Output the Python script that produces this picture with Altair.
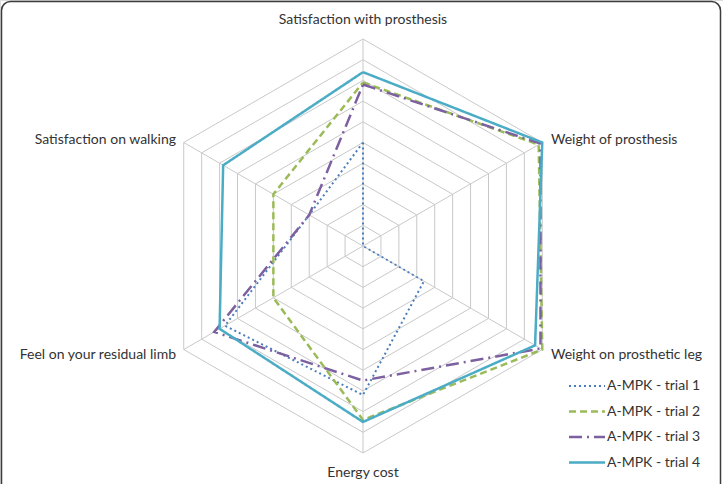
import math
import altair as alt
import pandas as pd

# Radar axes, clockwise from the top
categories = [
    "Satisfaction with prosthesis",
    "Weight of prosthesis",
    "Weight on prosthetic leg",
    "Energy cost",
    "Feel on your residual limb",
    "Satisfaction on walking",
]

trials = ["A-MPK - trial 1", "A-MPK - trial 2", "A-MPK - trial 3", "A-MPK - trial 4"]
trial1 = [5.0, 0.0, 3.4, 7.2, 7.7, 3.0]
trial2 = [7.9, 9.8, 10.0, 8.4, 5.0, 5.0]
trial3 = [7.8, 9.9, 9.9, 6.5, 8.3, 3.0]
trial4 = [8.4, 10.0, 9.6, 8.5, 8.0, 7.8]
series = [trial1, trial2, trial3, trial4]

ring_levels = list(range(1, 11))
max_level = 10

colors = ["#4a7ebb", "#9bbb59", "#7d60a0", "#4bacc6"]
dashes = [[2, 3], [7, 4], [13, 5, 2, 5], [1, 0]]
widths = [2.0, 2.5, 2.5, 2.5]

W, H = 723, 484
CX, CY = 363.0, 246.0       # pixel centre of the radar
UNIT = 20.7                 # pixels per unit value

x_dom = [-CX / UNIT, (W - CX) / UNIT]
y_dom = [-(H - CY) / UNIT, CY / UNIT]
xs = alt.Scale(domain=x_dom, range=[0, W], nice=False, zero=False)
ys = alt.Scale(domain=y_dom, range=[H, 0], nice=False, zero=False)

FONT = "Lato"
FONT_SIZE = 14
TEXT_COLOR = "#333333"


def angle(i):
    return math.radians(90 - 60 * i)


def polar(v, i):
    a = angle(i)
    return v * math.cos(a), v * math.sin(a)


# Grid rings
ring_rows = []
for lvl in ring_levels:
    for k in range(len(categories) + 1):
        i = k % len(categories)
        x, y = polar(lvl, i)
        ring_rows.append({"level": lvl, "k": k, "x": x, "y": y})
rings = alt.Chart(pd.DataFrame(ring_rows)).mark_line(
    color="#c9c9c9", strokeWidth=1
).encode(
    x=alt.X("x:Q", scale=xs, axis=None),
    y=alt.Y("y:Q", scale=ys, axis=None),
    detail="level:N",
    order="k:Q",
)

# Spokes
spoke_rows = []
for i, c in enumerate(categories):
    x, y = polar(max_level, i)
    spoke_rows.append({"x": 0.0, "y": 0.0, "x2": x, "y2": y})
spokes = alt.Chart(pd.DataFrame(spoke_rows)).mark_rule(
    color="#c9c9c9", strokeWidth=1
).encode(
    x=alt.X("x:Q", scale=xs, axis=None),
    y=alt.Y("y:Q", scale=ys, axis=None),
    x2="x2:Q",
    y2="y2:Q",
)

# Series polygons
layers = []
for t, vals, col, dash, sw in zip(trials, series, colors, dashes, widths):
    rows = []
    for k in range(len(categories) + 1):
        i = k % len(categories)
        x, y = polar(vals[i], i)
        rows.append({"trial": t, "k": k, "x": x, "y": y})
    layers.append(
        alt.Chart(pd.DataFrame(rows)).mark_line(
            color=col, strokeDash=dash, strokeWidth=sw, strokeJoin="miter"
        ).encode(
            x=alt.X("x:Q", scale=xs, axis=None),
            y=alt.Y("y:Q", scale=ys, axis=None),
            order="k:Q",
        )
    )

# Category labels
label_pos = [
    (CX, 20, "center"),
    (551, 140, "left"),
    (551, 355, "left"),
    (CX, 473, "center"),
    (176, 355, "right"),
    (176, 140, "right"),
]
label_layers = []
for c, (lx, ly, al) in zip(categories, label_pos):
    label_layers.append(
        alt.Chart(pd.DataFrame({"label": [c]})).mark_text(
            align=al, baseline="middle", font=FONT, fontSize=FONT_SIZE, color=TEXT_COLOR
        ).encode(x=alt.value(lx), y=alt.value(ly), text="label:N")
    )

# Legend
legend_layers = []
for n, (t, col, dash, sw) in enumerate(zip(trials, colors, dashes, widths)):
    yy = 386 + n * 25.5
    df = pd.DataFrame({"trial": [t]})
    legend_layers.append(
        alt.Chart(df).mark_rule(color=col, strokeDash=dash, strokeWidth=sw).encode(
            x=alt.value(569), x2=alt.value(605), y=alt.value(yy)
        )
    )
    legend_layers.append(
        alt.Chart(df).mark_text(
            align="left", baseline="middle", font=FONT, fontSize=FONT_SIZE, color=TEXT_COLOR
        ).encode(x=alt.value(607), y=alt.value(yy), text="trial:N")
    )

# Rounded frame
frame = alt.Chart(pd.DataFrame({"a": [0]})).mark_rect(
    fill=None, stroke="#3c3c3c", strokeWidth=1.5, cornerRadius=9
).encode(x=alt.value(1.5), x2=alt.value(720.5), y=alt.value(1.5), y2=alt.value(500))

chart = alt.layer(
    rings, spokes, *layers, *label_layers, *legend_layers, frame
).properties(
    width=W, height=H, padding=0, autosize=alt.AutoSizeParams(type="none")
).configure_view(stroke=None).configure(background="white")

chart.save("out.html", embed_options={"renderer": "svg", "actions": False})
